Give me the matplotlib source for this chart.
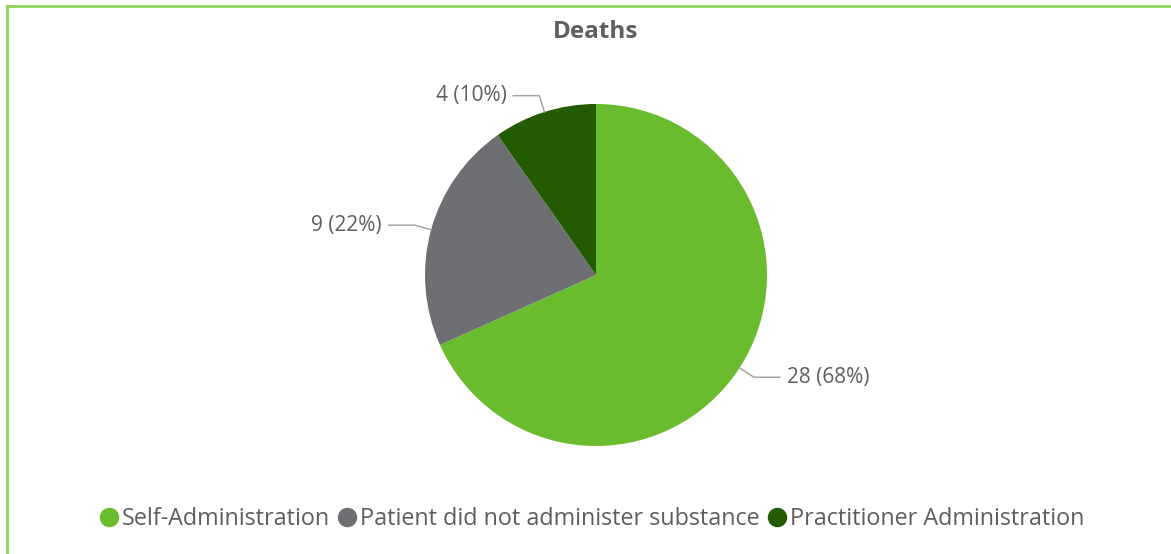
import numpy as np
import matplotlib.pyplot as plt
from matplotlib.lines import Line2D

# data
labels = ["Self-Administration", "Patient did not administer substance", "Practitioner Administration"]
deaths = [28, 9, 4]
colors = ["#6BBB2E", "#6E6F73", "#245B00"]

plt.rcParams['font.family'] = ['Open Sans', 'DejaVu Sans']
text_col = "#605E5C"

fig = plt.figure(figsize=(11.71, 5.54), dpi=100)
W, H = 1171, 554

# pie axes centred at (596, 275) px, radius 171 px
cx, cy, r = 596, 275, 171
ax = fig.add_axes([(cx - r) / W, (H - cy - r) / H, 2 * r / W, 2 * r / H])
wedges, _ = ax.pie(deaths, colors=colors, startangle=90, counterclock=False,
                   radius=1.0, wedgeprops=dict(linewidth=0))
ax.set_xlim(-1, 1)
ax.set_ylim(-1, 1)
ax.set_aspect('equal')
ax.axis('off')

total = sum(deaths)
hlen = 26 / r
for w, v in zip(wedges, deaths):
    ang = np.deg2rad((w.theta1 + w.theta2) / 2)
    x0, y0 = np.cos(ang), np.sin(ang)
    x1, y1 = 1.1 * x0, 1.1 * y0
    s = 1 if x0 > 0 else -1
    x2 = x1 + s * hlen
    ax.plot([x0, x1, x2], [y0, y1, y1], color="#A6A6A6", lw=1.1, clip_on=False)
    ax.text(x2 + s * 0.04, y1, f"{v} ({v / total:.0%})", ha='left' if s > 0 else 'right',
            va='center', fontsize=15, color=text_col)

fig.text(cx / W, 1 - 32 / H, "Deaths", ha='center', va='center', fontsize=17.5,
         fontweight='bold', color="#5F5F5F")

handles = [Line2D([], [], marker='o', ls='', markersize=13, markerfacecolor=c,
                  markeredgecolor=c) for c in colors]
fig.legend(handles, labels, loc='center', bbox_to_anchor=(592 / W, 1 - 519 / H), ncol=3,
           frameon=False, fontsize=16.8, handletextpad=0.15, columnspacing=0.35,
           labelcolor=text_col, handlelength=0.8)

# green frame lines along top and left
fig.add_artist(Line2D([7 / W, 1], [1 - 6 / H, 1 - 6 / H], color="#8ED45A", lw=2))
fig.add_artist(Line2D([7 / W, 7 / W], [0, 1 - 6 / H], color="#8ED45A", lw=2))

fig.savefig("out.png", dpi=100)
